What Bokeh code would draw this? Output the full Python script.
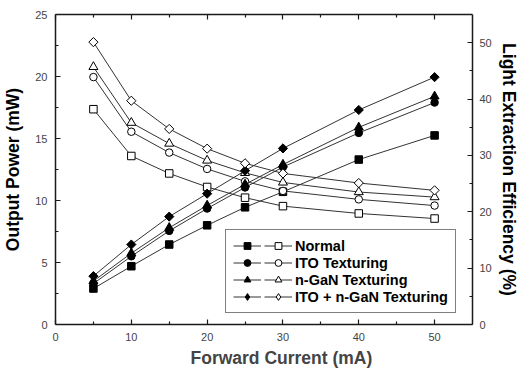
import numpy as np
from bokeh.plotting import figure
from bokeh.models import (Range1d, LinearAxis, Legend, LegendItem, Title,
                          FixedTicker, CustomLabelingPolicy)
from bokeh.embed import file_html
from bokeh.resources import INLINE

# ---- data ----
current = [5, 10, 15, 20, 25, 30, 40, 50]

# Output power (mW) - filled markers, left axis
normal_p = [2.9, 4.7, 6.45, 8.0, 9.45, 10.7, 13.3, 15.25]
ito_p = [3.3, 5.5, 7.55, 9.35, 11.05, 12.7, 15.45, 17.9]
ngan_p = [3.5, 5.75, 7.8, 9.6, 11.3, 12.9, 15.9, 18.4]
both_p = [3.9, 6.45, 8.7, 10.55, 12.4, 14.2, 17.3, 19.95]

# Light extraction efficiency (%) - open markers, right axis
normal_e = [38.2, 29.9, 26.8, 24.4, 22.5, 21.0, 19.7, 18.8]
ito_e = [43.9, 34.2, 30.5, 27.6, 25.4, 23.7, 22.2, 21.1]
ngan_e = [45.7, 35.8, 32.1, 29.1, 26.9, 25.2, 23.5, 22.6]
both_e = [50.1, 39.7, 34.7, 31.2, 28.6, 26.8, 25.1, 23.8]

labels = ["Normal", "ITO Texturing", "n-GaN Texturing", "ITO + n-GaN Texturing"]

x_ticks = [0, 10, 20, 30, 40, 50]
x_minor = [5, 15, 25, 35, 45]
left_ticks = [0, 5, 10, 15, 20, 25]
left_minor = [2.5, 7.5, 12.5, 17.5, 22.5]
right_ticks = [0, 10, 20, 30, 40, 50]
right_minor = [5, 15, 25, 35, 45]

FONT = "Liberation Sans"
AX = "#1a1a1a"
LINE = "#333333"

p = figure(width=521, height=373, output_backend="svg", toolbar_location=None,
           x_range=Range1d(0, 55), y_range=Range1d(0, 25),
           x_axis_type=None, y_axis_type=None,
           min_border_left=55, min_border_right=46, min_border_top=14,
           min_border_bottom=49)
p.extra_y_ranges = {"lee": Range1d(0, 55)}
p.outline_line_color = None
p.xgrid.visible = False
p.ygrid.visible = False
p.background_fill_color = "white"
p.border_fill_color = "white"

no_labels = CustomLabelingPolicy(code="""
try { for (const i of Array.from(indices)) { indices.unset(i) } } catch (e) {}
return indices
""")


def style(ax, ticks, minor, show_labels=True):
    ax.ticker = FixedTicker(ticks=ticks, minor_ticks=minor)
    ax.axis_line_width = 1.5
    ax.axis_line_color = AX
    ax.major_tick_line_color = AX
    ax.minor_tick_line_color = AX
    ax.major_tick_line_width = 1.2
    ax.minor_tick_line_width = 1.2
    ax.major_tick_in = 5
    ax.major_tick_out = 0
    ax.minor_tick_in = 3
    ax.minor_tick_out = 0
    ax.major_label_text_font = FONT
    ax.major_label_text_color = "#444444"
    if show_labels:
        ax.major_label_text_font_size = "11px"
        ax.major_label_standoff = 8
    else:
        ax.major_label_text_font_size = "0px"
        ax.major_label_standoff = 0
        ax.major_label_policy = no_labels
    ax.axis_label_text_font = FONT
    ax.axis_label_text_font_style = "bold"
    ax.axis_label_text_font_size = "17.5px"
    ax.axis_label_text_color = "black"


xb = LinearAxis()
style(xb, x_ticks, x_minor)
p.add_layout(xb, "below")

xt = LinearAxis()
style(xt, x_ticks, x_minor, show_labels=False)
p.add_layout(xt, "above")

yl = LinearAxis(axis_label="Output Power (mW)")
style(yl, left_ticks, left_minor)
yl.axis_label_standoff = 9
p.add_layout(yl, "left")

yr = LinearAxis(y_range_name="lee", axis_label="Light Extraction Efficiency (%)")
style(yr, right_ticks, right_minor)
yr.major_label_standoff = 7
yr.axis_label_standoff = 4
p.add_layout(yr, "right")

xtitle = Title(text="Forward Current (mA)", align="left", offset=135,
               text_font=FONT, text_font_style="bold", text_font_size="17.5px",
               standoff=4)
p.add_layout(xtitle, "below")

power = [normal_p, ito_p, ngan_p, both_p]
eff = [normal_e, ito_e, ngan_e, both_e]
markers = ["square", "circle", "triangle", "square"]
legend_markers = ["square", "circle", "triangle", "diamond"]
angles = [0, 0, 0, np.pi / 4]
sizes = [7.5, 7.5, 9, 6.5]

filled_items = []
open_items = []
for i in range(4):
    lf = p.line(current, power[i], line_color=LINE, line_width=1)
    sf = p.scatter(current, power[i], marker=markers[i], angle=angles[i],
                   size=sizes[i], fill_color="black", line_color="black",
                   line_width=1)
    lo = p.line(current, eff[i], line_color=LINE, line_width=1,
                y_range_name="lee")
    so = p.scatter(current, eff[i], marker=markers[i], angle=angles[i],
                   size=sizes[i], fill_color="white", line_color="black",
                   line_width=1, y_range_name="lee")
    if markers[i] != legend_markers[i]:
        # legend-only sample glyphs (legend swatches ignore marker angle);
        # a single NaN point is never drawn in the plot area
        sf = p.scatter(x=[float("nan")], y=[float("nan")],
                       marker=legend_markers[i], fill_color="black",
                       line_color="black", line_width=1)
        so = p.scatter(x=[float("nan")], y=[float("nan")],
                       marker=legend_markers[i], fill_color="white",
                       line_color="black", line_width=1, y_range_name="lee")
    filled_items.append(LegendItem(label=" ", renderers=[lf, sf]))
    open_items.append(LegendItem(label=labels[i], renderers=[lo, so]))

legend = Legend(items=filled_items + open_items, orientation="vertical",
                nrows=4, location=(170, 11), glyph_width=28, glyph_height=17,
                label_height=17, label_width=0, spacing=0, padding=7,
                margin=0, label_standoff=3,
                border_line_color="black", border_line_width=1,
                background_fill_color="white", background_fill_alpha=1,
                label_text_font=FONT, label_text_font_style="bold",
                label_text_font_size="14.5px", label_text_color="black")
p.add_layout(legend, "center")

open("out.html", "w").write(file_html(p, INLINE))
